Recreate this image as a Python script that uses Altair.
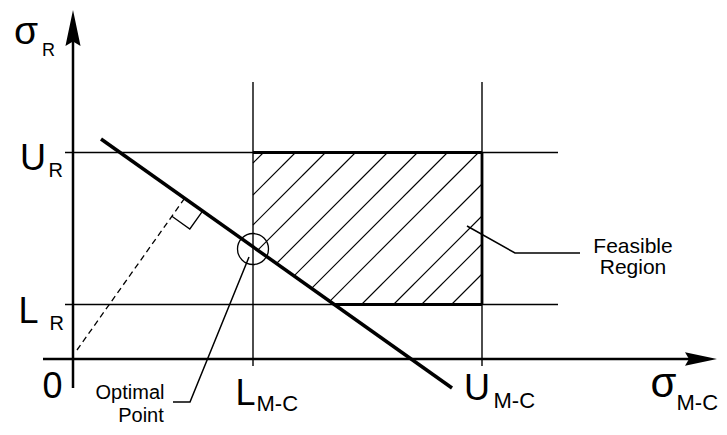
import altair as alt
import pandas as pd
import numpy as np

# ---- conceptual values (diagram units) ----
L_MC = 18.0
U_MC = 40.9
L_R = 5.45
U_R = 20.65
DIAG_X = [2.8, 37.9]
DIAG_Y = [22.0, -2.9]
HATCH_OFFSETS = [-1.6, 1.6, 4.6, 7.6, 10.8, 13.8, 16.8, 19.9, 23.4, 26.6, 29.4, 32.4]
OPT_POINT = [18.0, 11.0]
DASH_START = [0.4, 0.9]
RIGHT_ANGLE_SIZE = 2.2
OPT_LEADER_X = [17.6, 11.7, 10.0]
OPT_LEADER_Y = [10.2, -4.3, -4.3]
FEAS_LEADER_X = [39.4, 44.2, 50.7]
FEAS_LEADER_Y = [13.3, 10.6, 10.6]
XAXIS_EXT = [-3.0, 63.0]
YAXIS_EXT = [-2.9, 33.0]
HGUIDE_EXT = [-0.8, 48.5]
VGUIDE_EXT = [-0.7, 27.7]
YARROW = [0.0, 33.1]
XARROW = [62.8, 0.0]

FONT = "Liberation Sans"
xs = alt.Scale(domain=[-6.5, 64.6], nice=False, zero=False)
ys = alt.Scale(domain=[-6.8, 35.1], nice=False, zero=False)


def X(f="x"):
    return alt.X(f + ":Q", scale=xs, axis=None)


def Y(f="y"):
    return alt.Y(f + ":Q", scale=ys, axis=None)


def rules(rows, width, dash=None):
    df = pd.DataFrame(rows, columns=["x", "y", "x2", "y2"])
    kw = dict(color="black", strokeWidth=width)
    if dash:
        kw["strokeDash"] = dash
    return alt.Chart(df).mark_rule(**kw).encode(x=X(), y=Y(), x2="x2:Q", y2="y2:Q")


def poly(xs_, ys_, width, dash=None):
    df = pd.DataFrame({"x": xs_, "y": ys_, "o": list(range(len(xs_)))})
    kw = dict(color="black", strokeWidth=width, strokeJoin="miter")
    if dash:
        kw["strokeDash"] = dash
    return alt.Chart(df).mark_line(**kw).encode(x=X(), y=Y(), order="o:Q")


def label(text, pt, dx, dy, size, align="left"):
    df = pd.DataFrame({"x": [pt[0]], "y": [pt[1]], "t": [text]})
    return alt.Chart(df).mark_text(
        dx=dx, dy=dy, fontSize=size, align=align, baseline="alphabetic",
        font=FONT, color="black"
    ).encode(x=X(), y=Y(), text="t:N")


# diagonal line parameters
b = (DIAG_Y[1] - DIAG_Y[0]) / (DIAG_X[1] - DIAG_X[0])
a = DIAG_Y[0] - b * DIAG_X[0]
x_bottom = (L_R - a) / b

# guide lines
guides = rules([
    [HGUIDE_EXT[0], U_R, HGUIDE_EXT[1], U_R],
    [HGUIDE_EXT[0], L_R, HGUIDE_EXT[1], L_R],
    [L_MC, VGUIDE_EXT[0], L_MC, VGUIDE_EXT[1]],
    [U_MC, VGUIDE_EXT[0], U_MC, VGUIDE_EXT[1]],
], 1.4)

axes = rules([
    [XAXIS_EXT[0], 0, XAXIS_EXT[1], 0],
    [0, YAXIS_EXT[0], 0, YAXIS_EXT[1]],
], 2.5)

# hatching clipped to feasible region
hrows = []
for h in HATCH_OFFSETS:
    xmin = max(L_MC, L_R + h, (a + h) / (1 - b))
    xmax = min(U_MC, U_R + h)
    if xmin < xmax:
        hrows.append([xmin, xmin - h, xmax, xmax - h])
hatch = rules(hrows, 1.1)

border = rules([
    [L_MC, U_R, U_MC, U_R],
    [U_MC, U_R, U_MC, L_R],
    [x_bottom, L_R, U_MC, L_R],
], 2.8)

diag = rules([[DIAG_X[0], DIAG_Y[0], DIAG_X[1], DIAG_Y[1]]], 3.5)

# perpendicular from origin to the diagonal
p0 = np.array([DIAG_X[0], DIAG_Y[0]])
u = np.array([DIAG_X[1] - DIAG_X[0], DIAG_Y[1] - DIAG_Y[0]])
u = u / np.linalg.norm(u)
o = np.array(DASH_START)
foot = p0 + np.dot(o - p0, u) * u
n = (o - foot) / np.linalg.norm(o - foot)
dashed = rules([[o[0], o[1], foot[0], foot[1]]], 1.3, dash=[6, 4])
s = RIGHT_ANGLE_SIZE
c1 = foot + s * u
c2 = foot + s * u + s * n
c3 = foot + s * n
box = poly([c1[0], c2[0], c3[0]], [c1[1], c2[1], c3[1]], 1.3)

lead1 = poly(OPT_LEADER_X, OPT_LEADER_Y, 1.5)
lead2 = poly(FEAS_LEADER_X, FEAS_LEADER_Y, 1.5)

circle = alt.Chart(pd.DataFrame({"x": [OPT_POINT[0]], "y": [OPT_POINT[1]]})).mark_point(
    shape="circle", size=961, filled=False, color="black", strokeWidth=1.3, opacity=1
).encode(x=X(), y=Y())

ARROW = "M0,-1L0.42,1L0,0.75L-0.42,1Z"
yarrow = alt.Chart(pd.DataFrame({"x": [YARROW[0]], "y": [YARROW[1]]})).mark_point(
    shape=ARROW, size=1296, filled=True, color="black", opacity=1, strokeWidth=0
).encode(x=X(), y=Y())
xarrow = alt.Chart(pd.DataFrame({"x": [XARROW[0]], "y": [XARROW[1]]})).mark_point(
    shape=ARROW, size=1024, filled=True, color="black", opacity=1, strokeWidth=0, angle=90
).encode(x=X(), y=Y())

ytop = [0, YAXIS_EXT[1]]
xend = [XAXIS_EXT[1], 0]
texts = [
    label("σ", ytop, -47, 15, 39, "center"),
    label("R", ytop, -31, 27, 18),
    label("U", [0, U_R], -27, 17.5, 36, "right"),
    label("R", [0, U_R], -24.5, 24.5, 20),
    label("L", [0, L_R], -54.6, 18.5, 36),
    label("R", [0, L_R], -23.5, 25.5, 20),
    label("0", [0, 0], -20.5, 39, 36, "center"),
    label("L", [L_MC, 0], -17.6, 46, 36),
    label("M-C", [L_MC, 0], 3.5, 52, 22),
    label("U", [U_MC, 0], -18, 41, 36),
    label("M-C", [U_MC, 0], 11.5, 49, 22),
    label("σ", xend, -39.5, 38, 42, "center"),
    label("M-C", xend, -26.5, 51, 22),
    label("Feasible", [FEAS_LEADER_X[-1], FEAS_LEADER_Y[-1]], 53, 0, 21, "center"),
    label("Region", [FEAS_LEADER_X[-1], FEAS_LEADER_Y[-1]], 53, 21, 21, "center"),
    label("Optimal", [OPT_LEADER_X[-1], OPT_LEADER_Y[-1]], -43, -3, 20, "center"),
    label("Point", [OPT_LEADER_X[-1], OPT_LEADER_Y[-1]], -32, 20, 20, "center"),
]

chart = alt.layer(
    guides, hatch, border, diag, dashed, box, lead1, lead2, circle, axes, yarrow, xarrow, *texts
).properties(
    width=711, height=419, padding=0, autosize=alt.AutoSizeParams(type="none"),
    background="white"
).configure_view(stroke=None)

chart.save("out.html", embed_options={"renderer": "svg", "actions": False})
